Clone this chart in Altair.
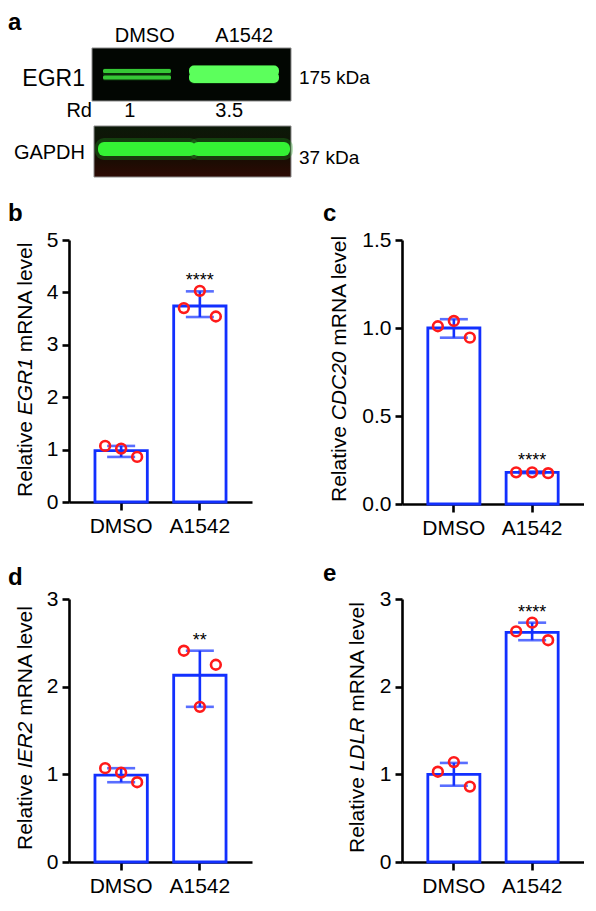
import altair as alt
import pandas as pd

FONT = "Liberation Sans"
BLUE = "#1230ff"
RED = "#ff1a1a"

# ---------------- panel a : western blot ----------------
lanes = ["DMSO", "A1542"]
egr1_rd = [1, 3.5]
gapdh_level = [1.0, 1.0]
egr1_kda = "175 kDa"
gapdh_kda = "37 kDa"

# ---------------- bar panels ----------------
groups = ["DMSO", "A1542"]
reps = ["left", "centre", "right"]

b_mean = [0.98, 3.74]
b_low = [0.86, 3.53]
b_high = [1.07, 4.02]
b_dmso = [1.07, 1.02, 0.86]
b_a1542 = [3.70, 4.03, 3.54]

c_mean = [1.00, 0.18]
c_low = [0.945, 0.175]
c_high = [1.05, 0.185]
c_dmso = [1.01, 1.04, 0.945]
c_a1542 = [0.18, 0.18, 0.175]

d_mean = [0.99, 2.13]
d_low = [0.91, 1.77]
d_high = [1.07, 2.41]
d_dmso = [1.07, 1.02, 0.91]
d_a1542 = [2.41, 1.77, 2.25]

e_mean = [1.00, 2.62]
e_low = [0.87, 2.53]
e_high = [1.13, 2.73]
e_dmso = [1.03, 1.14, 0.86]
e_a1542 = [2.63, 2.73, 2.53]

# Arial / Liberation Sans advance widths (per 1000 em)
ADV = {"R": 722, "e": 556, "l": 222, "a": 556, "t": 278, "i": 222, "v": 500,
       " ": 278, "E": 667, "G": 778, "1": 556, "m": 833, "N": 722, "A": 667,
       "C": 722, "D": 722, "2": 556, "0": 556, "I": 278, "L": 556}

PAD_IN, PAD_OUT = 0.335, 0.33


def tw(s, fs):
    return sum(ADV.get(ch, 556) for ch in s) * fs / 1000.0


def txt(text, x, y, size=21, weight="normal", style="normal", align="left",
        baseline="alphabetic", angle=0):
    return alt.Chart(pd.DataFrame({"t": [text]})).mark_text(
        font=FONT, fontSize=size, fontWeight=weight, fontStyle=style,
        align=align, baseline=baseline, angle=angle, color="black"
    ).encode(x=alt.value(x), y=alt.value(y), text="t:N")


def ytitle(gene, x, y0, fs=21):
    layers = []
    y = y0
    layers.append(txt("Relative", x, y, fs, angle=270))
    y -= tw("Relative ", fs)
    layers.append(txt(gene, x, y, fs, style="italic", angle=270))
    y -= tw(gene + " ", fs)
    layers.append(txt("mRNA level", x, y, fs, angle=270))
    return layers


def panel(letter, gene, mean, low, high, dmso, a1542, sig, ymax, yticks, fmt,
          w, h, title_x, title_y0, letter_x, letter_y, extend=None):
    summ = pd.DataFrame({"group": groups, "mean": mean, "low": low,
                         "high": high, "sig": ["", sig]})
    pts = pd.DataFrame({"group": ["DMSO"] * 3 + ["A1542"] * 3,
                        "rep": reps * 2, "value": dmso + a1542})
    xs = alt.Scale(paddingInner=PAD_IN, paddingOuter=PAD_OUT)
    xaxis = alt.Axis(title=None, labelAngle=0, tickSize=8, labelPadding=5)
    ys = alt.Scale(domain=[0, ymax], nice=False, zero=True)
    yaxis = alt.Axis(title=None, values=yticks, format=fmt, tickSize=7,
                     labelPadding=4)
    step = w / (2 - PAD_IN + 2 * PAD_OUT)
    half_bw = step * (1 - PAD_IN) / 2

    def X():
        return alt.X("group:N", sort=groups, scale=xs, axis=xaxis)

    def Y(f):
        return alt.Y(f, scale=ys, axis=yaxis)

    base = alt.Chart(summ)
    bars = base.mark_bar(fill="white", stroke=BLUE, strokeWidth=2.8).encode(
        x=X(), y=Y("mean:Q"))
    err = base.mark_rule(color=BLUE, strokeWidth=2.6).encode(
        x=X(), y=Y("low:Q"), y2="high:Q")
    caps = base.transform_fold(["low", "high"], as_=["end", "v"]).mark_tick(
        color=BLUE, thickness=2.6, size=28).encode(x=X(), y=Y("v:Q"))
    dots = alt.Chart(pts).transform_calculate(
        jit="indexof(['left', 'centre', 'right'], datum.rep) - 1"
    ).mark_point(
        shape="circle", filled=False, color=RED, size=95, strokeWidth=2.6,
        opacity=1).encode(
        x=X(),
        xOffset=alt.XOffset("jit:Q", scale=alt.Scale(
            domain=[-1, 1], range=[half_bw - 16, half_bw + 16])),
        y=Y("value:Q"))
    stars = base.mark_text(font=FONT, fontSize=18, baseline="alphabetic",
                           dy=-5, color="black").encode(
        x=X(), y=Y("high:Q"), text="sig:N")
    layers = [bars, err, caps, dots, stars]
    layers += ytitle(gene, title_x, title_y0)
    layers.append(txt(letter, letter_x, letter_y, 24, weight="bold"))
    if extend is not None:
        layers.append(alt.Chart(pd.DataFrame({"k": [0]})).mark_rule(
            color="white", strokeWidth=1).encode(
            x=alt.value(10), y=alt.value(h + 20), y2=alt.value(extend)))
    return alt.layer(*layers).resolve_scale(xOffset="independent").properties(
        width=w, height=h)


# ---------------- blot chart ----------------
blot_df = pd.DataFrame({"lane": lanes, "rd": egr1_rd, "gapdh": gapdh_level})
one = pd.DataFrame({"k": [0]})
lane_scale = alt.Scale(range=[17, 216], paddingInner=0.124,
                       paddingOuter=0.088)
gapdh_scale = alt.Scale(range=[31, 219], paddingInner=0, paddingOuter=0)


def LX(scale=lane_scale):
    return alt.X("lane:N", sort=lanes, scale=scale, axis=None)


GREENS = ["#36c836", "#5cff5c"]
strip1 = alt.Chart(one).mark_rect(fill="#020602", stroke="#8a8a8a",
                                  strokeWidth=1).encode(
    x=alt.value(23), x2=alt.value(222), y=alt.value(0), y2=alt.value(53))
grad = alt.LinearGradient(
    gradient="linear", x1=0, x2=0, y1=0, y2=1,
    stops=[alt.GradientStop(color="#0c1808", offset=0),
           alt.GradientStop(color="#101406", offset=0.45),
           alt.GradientStop(color="#1c0c03", offset=0.7),
           alt.GradientStop(color="#2e0a04", offset=1)])
strip2 = alt.Chart(one).mark_rect(fill=grad, stroke="#8a8a8a",
                                  strokeWidth=1).encode(
    x=alt.value(25), x2=alt.value(222), y=alt.value(78), y2=alt.value(129))

lane_size = alt.Size("rd:Q", scale=alt.Scale(domain=[1, 3.5],
                                             range=[65, 80]), legend=None)

glow = alt.Chart(blot_df).mark_bar(
    fill="#1e8a1e", stroke="#1e8a1e", opacity=0.3,
    strokeJoin="round").encode(
    x=LX(), y=alt.value(22), y2=alt.value(31), size=lane_size,
    strokeWidth=alt.StrokeWidth("rd:Q", scale=alt.Scale(domain=[1, 3.5],
                                                         range=[3, 10]),
                                legend=None))


def egr1_line(yc, wrange):
    return alt.Chart(blot_df).mark_bar(strokeJoin="round").encode(
        x=LX(), y=alt.value(yc - 0.5), y2=alt.value(yc + 0.5),
        size=lane_size,
        stroke=alt.Stroke("rd:Q", scale=alt.Scale(domain=[1, 3.5],
                                                  range=GREENS), legend=None),
        fill=alt.Fill("rd:Q", scale=alt.Scale(domain=[1, 3.5], range=GREENS),
                      legend=None),
        strokeWidth=alt.StrokeWidth("rd:Q", scale=alt.Scale(domain=[1, 3.5],
                                                             range=wrange),
                                    legend=None))


upper = egr1_line(23, [2.5, 5.5])
lower = egr1_line(29.5, [3, 7.5])
gglow = alt.Chart(blot_df).mark_bar(
    width=86, fill="#22a022", stroke="#22a022", strokeWidth=18,
    opacity=0.3, strokeJoin="round").encode(
    x=LX(gapdh_scale), y=alt.value(99), y2=alt.value(103))
gband = alt.Chart(blot_df).mark_bar(
    width=86, fill="#34f234", stroke="#34f234", strokeWidth=12,
    strokeJoin="round").encode(
    x=LX(gapdh_scale), y=alt.value(100), y2=alt.value(102),
    opacity=alt.Opacity("gapdh:Q", scale=alt.Scale(domain=[0, 1],
                                                   range=[0, 1]),
                        legend=None))
lane_lbl = alt.Chart(blot_df).mark_text(font=FONT, fontSize=20, dx=9,
                                        baseline="alphabetic",
                                        color="black").encode(
    x=LX(), y=alt.value(-6), text="lane:N")
rd_lbl = alt.Chart(blot_df).mark_text(font=FONT, fontSize=20, dx=-6,
                                      baseline="alphabetic",
                                      color="black").encode(
    x=LX(), y=alt.value(69), text=alt.Text("rd:Q", format="~g"))

blot = alt.layer(
    strip1, strip2, glow, upper, lower, gglow, gband, lane_lbl, rd_lbl,
    txt("EGR1", 16, 38, 23, align="right"),
    txt("GAPDH", 16, 111, 20, align="right"),
    txt("Rd", 23, 69, 20, align="right"),
    txt(egr1_kda, 230, 36, 19),
    txt(gapdh_kda, 230, 116, 19),
    txt("a", -61, -18, 24, weight="bold"),
).resolve_scale(x="independent").properties(width=222, height=129)

pb = panel("b", "EGR1", b_mean, b_low, b_high, b_dmso, b_a1542, "****",
           5, [0, 1, 2, 3, 4, 5], "d", 183, 262, -37, 257, -61, -19,
           extend=297)
pc = panel("c", "CDC20", c_mean, c_low, c_high, c_dmso, c_a1542, "****",
           1.5, [0, 0.5, 1.0, 1.5], ".1f", 182, 264, -56, 262, -79, -19)
pd_ = panel("d", "IER2", d_mean, d_low, d_high, d_dmso, d_a1542, "**",
            3, [0, 1, 2, 3], "d", 183, 263, -37, 251, -61, -14)
pe = panel("e", "LDLR", e_mean, e_low, e_high, e_dmso, e_a1542, "****",
           3, [0, 1, 2, 3], "d", 182, 263, -38, 254, -79, -18)

row1 = alt.hconcat(pb, pc, spacing=71)
row2 = alt.hconcat(pd_, pe, spacing=71)

chart = alt.vconcat(blot, row1, row2, spacing=24).properties(
    padding={"top": 3, "left": 0, "right": 0, "bottom": 0},
    background="white"
).configure_view(stroke=None).configure_axis(
    domainColor="black", domainWidth=2.6, tickColor="black", tickWidth=2.6,
    labelFont=FONT, labelFontSize=21, labelColor="black", grid=False,
    zindex=1
)

chart.save("out.html", embed_options={"renderer": "svg", "actions": False})
